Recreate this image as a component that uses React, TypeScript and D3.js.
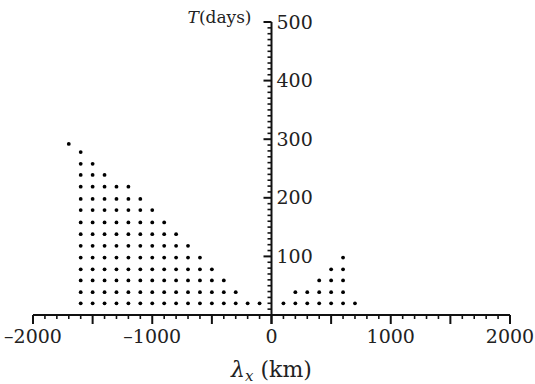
import React from "react";
import * as d3 from "d3";

// column positions (km) and how many grid rows each column reaches
const leftLambda = [-1600, -1500, -1400, -1300, -1200, -1100, -1000, -900, -800, -700, -600, -500, -400, -300, -200, -100];
const leftRowCount = [14, 13, 12, 11, 11, 10, 9, 8, 7, 6, 5, 4, 3, 2, 1, 1];
const rightLambda = [100, 200, 300, 400, 500, 600, 700];
const rightRowCount = [1, 2, 2, 3, 4, 5, 1];
// T values (days) of the grid rows
const periodRows = [20, 39, 59, 78, 98, 118, 138, 158, 179, 198, 219, 239, 258, 278];
// lone point at top left
const loneLambda = [-1700];
const loneT = [292];

const xTickLabels = [-2000, -1000, 0, 1000, 2000];
const yTickLabels = [100, 200, 300, 400, 500];

const W = 535;
const H = 384;
const font = "'DejaVu Serif', 'Liberation Serif', 'Times New Roman', Times, serif";

export default function App() {
  const x = d3.scaleLinear().domain([-2000, 2000]).range([33, 510]);
  const y = d3.scaleLinear().domain([0, 500]).range([315, 22]);

  const dots: { lx: number; t: number }[] = [];
  const addColumns = (lams: number[], counts: number[]) => {
    lams.forEach((lx, i) => {
      periodRows.slice(0, counts[i]).forEach((t) => dots.push({ lx, t }));
    });
  };
  addColumns(leftLambda, leftRowCount);
  addColumns(rightLambda, rightRowCount);
  loneLambda.forEach((lx, i) => dots.push({ lx, t: loneT[i] }));

  const xMinor = x.ticks(40);
  const yMinor = y.ticks(50);
  const x0 = x(0);
  const y0 = y(0);
  const ink = "#111";
  const txt = { fontFamily: font, fill: "#222" };

  return (
    <svg width={W} height={H} style={{ position: "absolute", left: 0, top: 0, background: "#fff", fontFamily: font }}>
      {/* dots */}
      <g fill="#000">
        {dots.map((d, i) => (
          <circle key={i} cx={x(d.lx)} cy={y(d.t)} r={1.9} />
        ))}
      </g>

      {/* x axis */}
      <line x1={x(-2000)} x2={x(2000)} y1={y0} y2={y0} stroke={ink} strokeWidth={2} />
      {xMinor.map((v) => (
        <line
          key={"xm" + v}
          x1={x(v)}
          x2={x(v)}
          y1={y0}
          y2={y0 + (v % 500 === 0 ? 9 : 4)}
          stroke={ink}
          strokeWidth={v % 500 === 0 ? 2 : 1.6}
        />
      ))}
      {xTickLabels.map((v) => (
        <text key={"xl" + v} x={x(v)} y={343} textAnchor="middle" fontSize={19} style={txt}>
          {v < 0 ? "\u2013" + Math.abs(v) : v}
        </text>
      ))}
      <text x={x0} y={377} textAnchor="middle" fontSize={22} style={txt}>
        <tspan fontStyle="italic">λ</tspan>
        <tspan fontStyle="italic" fontSize={15} dy={4}>x</tspan>
        <tspan dy={-4}> (km)</tspan>
      </text>

      {/* y axis */}
      <line x1={x0} x2={x0} y1={y(500)} y2={y0 + 9} stroke={ink} strokeWidth={2} />
      {yMinor.map((v) =>
        v === 0 ? null : (
          <line
            key={"ym" + v}
            x1={x0}
            x2={x0 - (v % 100 === 0 ? 8 : 4)}
            y1={y(v)}
            y2={y(v)}
            stroke={ink}
            strokeWidth={v % 100 === 0 ? 2 : 1.6}
          />
        )
      )}
      {yTickLabels.map((v) => (
        <text key={"yl" + v} x={x0 + 5} y={y(v)} dy="0.35em" fontSize={19} style={txt}>
          {v}
        </text>
      ))}
      <text x={x0 - 20} y={23} textAnchor="end" fontSize={17} style={txt}>
        <tspan fontStyle="italic">T</tspan>
        <tspan>(days)</tspan>
      </text>
    </svg>
  );
}
